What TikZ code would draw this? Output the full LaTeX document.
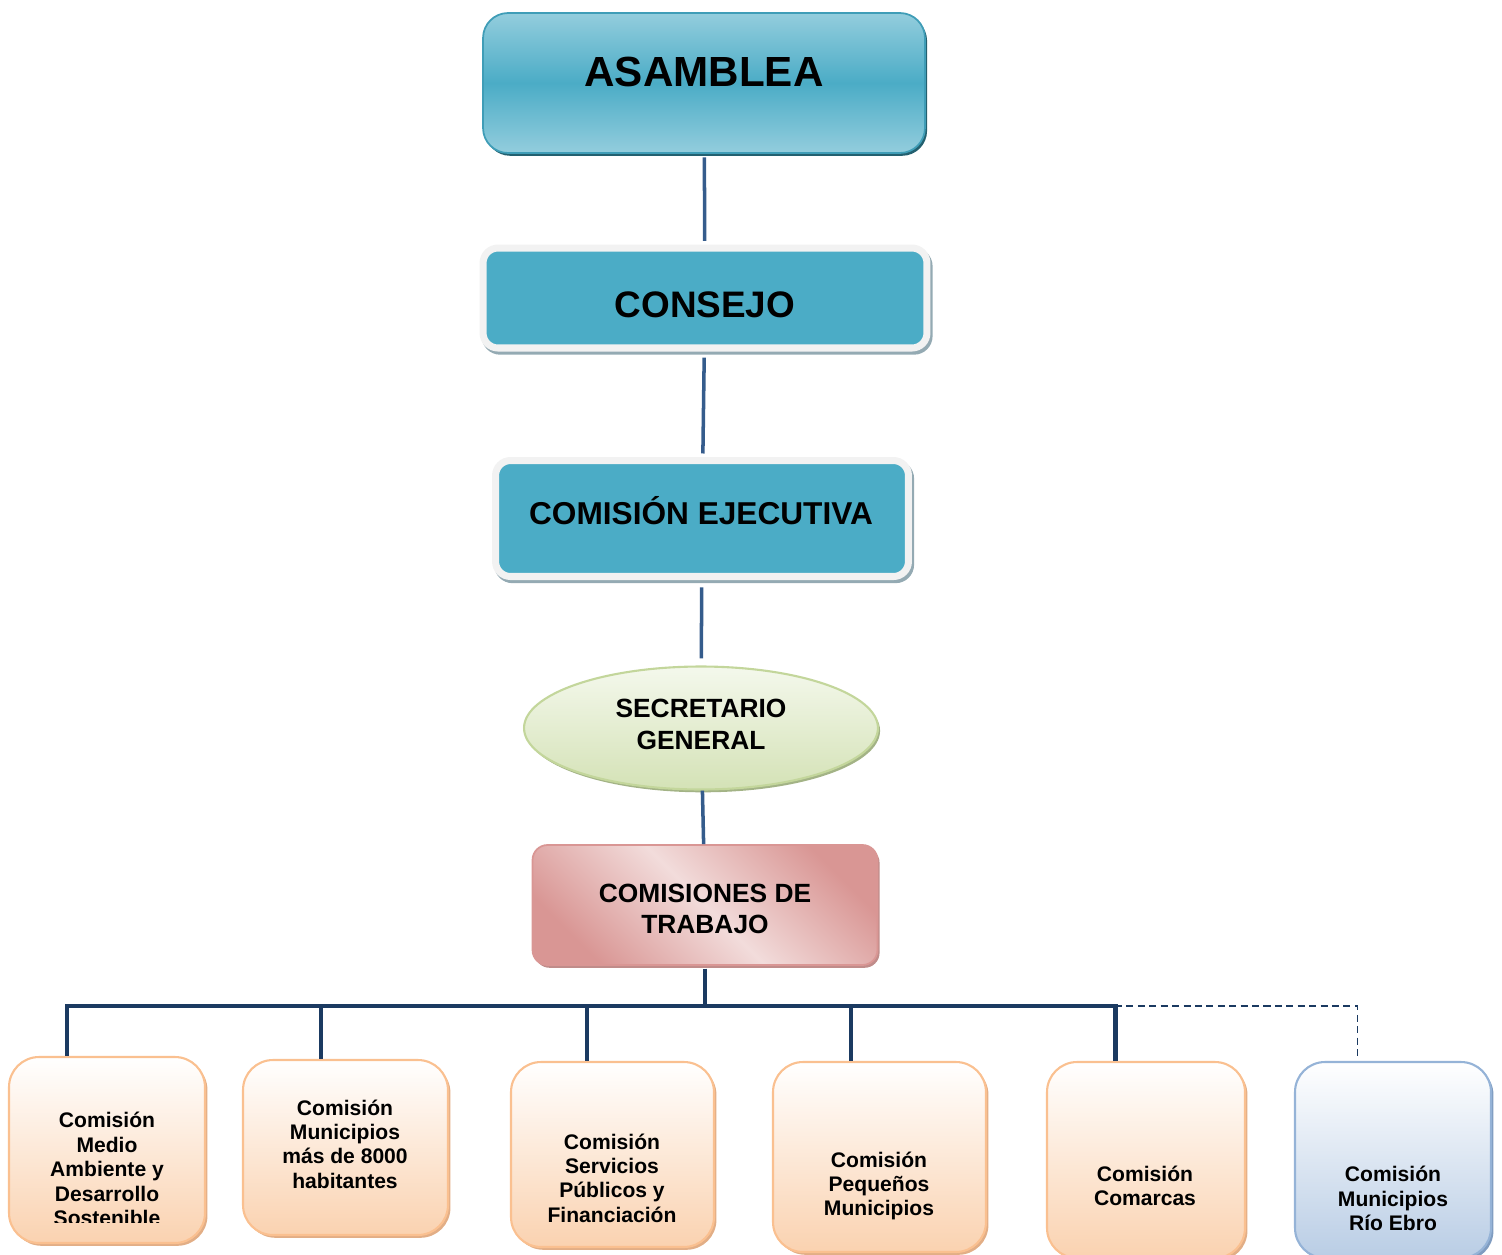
\documentclass[tikz,border=0pt]{standalone}
\usepackage{fontspec}
\setmainfont{Liberation Sans}
\usetikzlibrary{shapes}
\usetikzlibrary{shadows}
\usetikzlibrary{positioning}
\definecolor{tealm}{HTML}{4BACC6}
\definecolor{teall}{HTML}{93CDDD}
\definecolor{tealb}{HTML}{3F9DB7}
\definecolor{teals}{HTML}{23606F}
\definecolor{framegray}{HTML}{F2F2F2}
\definecolor{shadegray}{HTML}{94AAB3}
\definecolor{greenl}{HTML}{F4F8EC}
\definecolor{greend}{HTML}{D4E2B6}
\definecolor{greenb}{HTML}{C3D69B}
\definecolor{greens}{HTML}{A3B386}
\definecolor{pinkl}{HTML}{F2DCDB}
\definecolor{pinkd}{HTML}{D99694}
\definecolor{pinks}{HTML}{C08C8A}
\definecolor{peachl}{HTML}{FAD2B0}
\definecolor{peachb}{HTML}{FAC090}
\definecolor{peachs}{HTML}{E2AE86}
\definecolor{bluel}{HTML}{B9CDE5}
\definecolor{blueb}{HTML}{95B3D7}
\definecolor{blues}{HTML}{7F9CC0}
\definecolor{linkblue}{HTML}{355C8C}
\definecolor{navy}{HTML}{1B3A61}
\tikzset{
    topbox/.style = {rectangle, rounded corners=0.5cm, draw=tealb, line width=1pt, top color=teall, bottom color=teall, middle color=tealm, minimum width=8.84cm, minimum height=2.8cm, general shadow={fill=teals, shadow xshift=1.2pt, shadow yshift=-1.6pt}},
    framebox/.style = {rectangle, rounded corners=0.3cm, draw=framegray, fill=tealm, line width=4pt, general shadow={fill=shadegray, draw=shadegray, line width=4pt, shadow xshift=1.2pt, shadow yshift=-1.8pt}},
    secnode/.style = {ellipse, draw=greenb, line width=1.2pt, top color=greenl, bottom color=greend, minimum width=7.08cm, minimum height=2.46cm, general shadow={fill=greens, shadow xshift=1.2pt, shadow yshift=-1.6pt}},
    workbox/.style = {rectangle, rounded corners=0.3cm, draw=pinkd, line width=1pt, top color=pinkd, bottom color=pinkd, middle color=pinkl, shading angle=-45, minimum width=6.9cm, minimum height=2.4cm, general shadow={fill=pinks, shadow xshift=1.2pt, shadow yshift=-1.6pt}},
    combox/.style = {rectangle, rounded corners=0.6cm, draw=peachb, line width=1.2pt, top color=white, bottom color=peachl, general shadow={fill=peachs, shadow xshift=1.4pt, shadow yshift=-1.6pt}},
    comblue/.style = {rectangle, rounded corners=0.6cm, draw=blueb, line width=1.2pt, top color=white, bottom color=bluel, general shadow={fill=blues, shadow xshift=1.4pt, shadow yshift=-1.6pt}},
    txtbig/.style = {anchor=base, inner sep=0pt, font=\bfseries\fontsize{24}{28}\selectfont},
    txtmid/.style = {anchor=base, inner sep=0pt, font=\bfseries\fontsize{21}{25}\selectfont},
    txtexe/.style = {anchor=base, inner sep=0pt, font=\bfseries\fontsize{18}{21}\selectfont},
    txtsec/.style = {inner sep=0pt, align=center, font=\bfseries\fontsize{15}{18}\selectfont},
    comtext/.style = {inner sep=0pt, align=center, font=\bfseries\fontsize{12}{13.9}\selectfont},
    link/.style = {draw=linkblue, line width=2pt},
    bar/.style = {draw=navy, line width=2.3pt},
    busdash/.style = {draw=navy, line width=1pt, dash pattern=on 4pt off 2.5pt}
}
\begin{document}
\begin{tikzpicture}[x=0.02cm, y=-0.02cm]
\useasboundingbox (0, 0) rectangle (1502, 1255);
%
\node[topbox] at (704, 83) (asamblea) {};
\node[framebox, minimum width=8.88cm, minimum height=2.0cm] at (705, 298) (consejo) {};
\node[framebox, minimum width=8.26cm, minimum height=2.32cm] at (702, 518.5) (ejecutiva) {};
\node[secnode] at (701, 728) (secretario) {};
\node[workbox] at (705, 905) (trabajo) {};
%
\node[txtbig] at (704, 86) (asambleaT) {ASAMBLEA};
\node[txtmid] at (705, 317) (consejoT) {CONSEJO};
\node[txtexe] at (701, 524) (ejecutivaT) {COMISIÓN EJECUTIVA};
\node[txtsec] at (701, 724.5) (secretarioT) {SECRETARIO\\GENERAL};
\node[txtsec] at (705, 909) (trabajoT) {COMISIONES DE\\TRABAJO};
%
\node[combox, minimum width=3.92cm, minimum height=3.72cm] at (107, 1150) (medio) {};
\node[combox, minimum width=4.1cm, minimum height=3.5cm] at (345.5, 1147.5) (grandes) {};
\node[combox, minimum width=4.06cm, minimum height=3.7cm] at (612.5, 1154.5) (servicios) {};
\node[combox, minimum width=4.26cm, minimum height=3.8cm] at (879.5, 1157) (pequenos) {};
\node[combox, minimum width=3.96cm, minimum height=3.92cm] at (1146, 1160) (comarcas) {};
\node[comblue, minimum width=3.92cm, minimum height=3.92cm] at (1393, 1160) (ebro) {};
%
\begin{scope}
\clip (0, 0) rectangle (1502, 1222);
\node[comtext] at (107, 1169) (medioT) {Comisión\\Medio\\Ambiente y\\Desarrollo\\Sostenible};
\end{scope}
\node[comtext] at (345, 1144) (grandesT) {Comisión\\Municipios\\más de 8000\\habitantes};
\node[comtext] at (612, 1178) (serviciosT) {Comisión\\Servicios\\Públicos y\\Financiación};
\node[comtext] at (879, 1186) (pequenosT) {Comisión\\Pequeños\\Municipios};
\node[comtext] at (1145, 1186) (comarcasT) {Comisión\\Comarcas};
\node[comtext] at (1393, 1198.5) (ebroT) {Comisión\\Municipios\\Río Ebro};
%
\draw[link, shorten <=2pt, shorten >=2pt] (asamblea) -- (consejo);
\draw[link, shorten <=3.5pt, shorten >=2pt] (consejo) -- (ejecutiva);
\draw[link, shorten <=4.2pt, shorten >=4pt] (ejecutiva) -- (secretario);
\draw[link] (secretario) -- (trabajo);
%
\coordinate (bus) at (705, 1006);
\coordinate (busend) at (1115, 1006);
\draw[bar, shorten <=1.5pt] (trabajo) -- (bus);
\draw[bar] (bus) -| ([xshift=-0.8cm]medio.north);
\draw[bar] (bus) -| ([xshift=-0.49cm]grandes.north);
\draw[bar] (bus) -| ([xshift=-0.51cm]servicios.north);
\draw[bar] (bus) -| ([xshift=-0.57cm]pequenos.north);
\draw[bar] (bus) -| ([xshift=-0.61cm]comarcas.north);
\draw[busdash, shorten >=2.5pt] (busend) -| ([xshift=-0.71cm]ebro.north);

\end{tikzpicture}
\end{document}
